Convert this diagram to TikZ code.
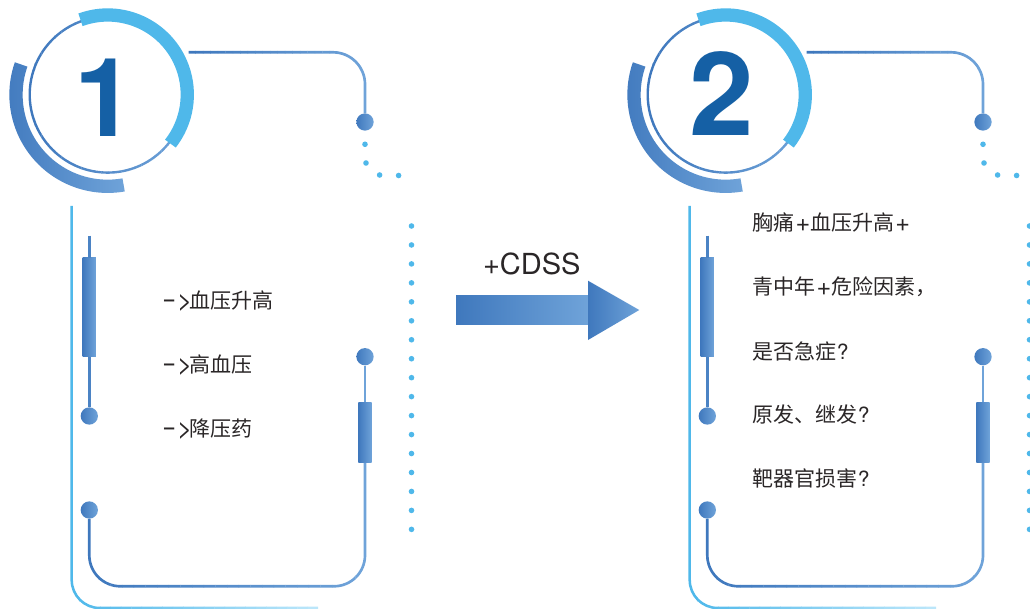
\documentclass[tikz,border=0pt]{standalone}
\usepackage{fontspec}
\setmainfont{TeX Gyre Heros}
\newfontfamily\cjk{Noto Sans CJK SC}
\newfontfamily\heros{TeX Gyre Heros}
\begin{document}
\definecolor{gradA}{HTML}{3F78BD}
\definecolor{gradB}{HTML}{6FA3D9}
\definecolor{sky}{HTML}{4FB8EA}
\definecolor{skyfade}{HTML}{BBE6FA}
\definecolor{numblue}{HTML}{1560A5}
\definecolor{inkdark}{HTML}{2A2627}
\newcommand\gradstroke[6]{%
  \foreach \gi in {0,...,23}{%
    \pgfmathsetmacro\gxa{#1+(#2-#1)*\gi/24}%
    \pgfmathsetmacro\gxb{#1+(#2-#1)*(\gi+1)/24+0.4}%
    \pgfmathtruncatemacro\gp{100*\gi/23}%
    \begin{scope}
      \clip (\gxa,-60) rectangle (\gxb,700);
      \draw[#5,color={#4!\gp!#3}] #6;
    \end{scope}}}
\newcommand\arw{\makebox[20.8pt][l]{\heros\scalebox{2.05}[1.3]{-}\kern0.5pt\raisebox{-0.6pt}{\scalebox{1.25}{>}}}}
\newcommand\plusm{{\heros\kern0.4pt\raisebox{-0.6pt}{\scalebox{1.2}{+}}\kern0.4pt}}
\newcommand\qm{{\heros ?}}
\newcommand\panel[5]{%
 \begin{scope}[shift={(#1,0)}]
  % badge
  \coordinate (#2c) at (107.7,94.6);
  \gradstroke{28}{188}{gradA}{gradB}{line width=1.8pt}{(#2c) circle[radius=78]}
  \draw[ringblue] (#2c) ++(-110:79.6) arc[start angle=-110,end angle=38,radius=79.6];
  \shade[left color=gradA,right color=gradB] ([shift={(-160.8:98.35)}]#2c) arc[start angle=-160.8,end angle=-280,radius=98.35] -- ([shift={(-280:85.05)}]#2c) arc[start angle=-280,end angle=-160.8,radius=85.05] -- cycle;
  \node[numtext,anchor=base,font=\fontsize{#4}{#4}\selectfont\bfseries] (#2num) at (#3,#5) {#2};
  % top connector and dotted tail
  \coordinate (#2ts) at (188.7,52.3);
  \node[gdot] (#2d1) at (365,122) {};
  \gradstroke{188}{367}{gradA}{gradB}{wire}{(#2ts) -- ++(144.3,0) arc[start angle=-90,end angle=0,radius=32] -- (#2d1.north)}
  \node[sdot] (#2s1) at (365,144.3) {};
  \node[sdot] (#2s2) at (366,163) {};
  \node[sdot] (#2s3) at (379.6,175) {};
  \node[sdot] (#2s4) at (398.6,175.5) {};
  % dotted column
  \foreach \k in {0,...,16}{\node[sdot] (#2col\k) at (411.5,226+18.96*\k) {};}
  % outer cyan line
  \coordinate (#2oa) at (71.7,206);
  \coordinate (#2ob) at (318,608);
  \gradstroke{69}{318}{sky}{skyfade}{line width=1.9pt}{(#2oa) -- (71.7,580) arc[start angle=180,end angle=90,radius=28] -- (#2ob)}
  % left connector
  \coordinate (#2lt) at (89.3,235.7);
  \node[gbar,minimum height=98.7*0.75pt] (#2b1) at (89.3,307.3) {};
  \node[gdot] (#2d2) at (89.3,416) {};
  \draw[wire,color=gradA!75!gradB] (#2lt) -- (#2b1.north);
  \draw[wire,color=gradA!75!gradB] (#2b1.south) -- (#2d2.north);
  % lower connector
  \node[gdot] (#2d3) at (89.3,510) {};
  \node[gdot] (#2d4) at (365,356.7) {};
  \node[gbar,minimum height=60*0.75pt] (#2b2) at (365,432.7) {};
  \draw[wire,color=gradB] (#2d4.south) -- (#2b2.north);
  \gradstroke{87}{367}{gradA}{gradB}{wire}{(#2d3.south) -- ++(0,36.35) arc[start angle=180,end angle=90,radius=31] -- ++(213.7,0) arc[start angle=90,end angle=0,radius=31] -- (#2b2.south)}
 \end{scope}}
\begin{tikzpicture}[x=0.75pt,y=-0.75pt,
  ringblue/.style={line width=13.3*0.75pt,color=sky},
  wire/.style={line width=2pt},
  numtext/.style={inner sep=0pt,text=numblue},
  gdot/.style={circle,inner sep=0pt,minimum size=17.3*0.75pt,left color=gradA,right color=gradB,draw=none},
  sdot/.style={circle,inner sep=0pt,minimum size=5.6*0.75pt,fill=sky,draw=none},
  gbar/.style={rectangle,inner sep=0pt,minimum width=13.3*0.75pt,left color=gradA,right color=gradB,draw=none},
  cntext/.style={anchor=west,inner sep=0pt,text=inkdark,text height=0.86em,text depth=0.14em,font=\fontsize{15.75}{15.75}\selectfont\cjk},
  ]
  \useasboundingbox (0,0) rectangle (1030,609);
  \panel{0}{1}{105}{82}{137}
  \panel{618}{2}{104}{87}{135.5}
  % panel 1 text
  \node[cntext] (ta) at (161.8,304) {\arw 血压升高};
  \node[cntext] (tb) at (161.8,368) {\arw 高血压};
  \node[cntext] (tc) at (161.8,432) {\arw 降压药};
  % panel 2 text
  \node[cntext] (ua) at (752.7,226) {胸痛\plusm 血压升高\plusm};
  \node[cntext] (ub) at (752.7,290) {青中年\plusm 危险因素，};
  \node[cntext] (uc) at (752.7,354.5) {是否急症\qm};
  \node[cntext] (ud) at (752.7,418) {原发、继发\qm};
  \node[cntext] (ue) at (752.7,481.5) {靶器官损害\qm};
  % central arrow
  \node[inner sep=0pt,anchor=base,text=inkdark,font=\fontsize{21.75}{21.75}\selectfont] (cdss) at (531.8,275) {+CDSS};
  \shade[left color=gradA,right color=gradB] (456,296) rectangle (588,324.7);
  \shade[left color=gradA,right color=gradB] (588,280.7) -- (639.3,310) -- (588,340) -- cycle;
\end{tikzpicture}
\end{document}
